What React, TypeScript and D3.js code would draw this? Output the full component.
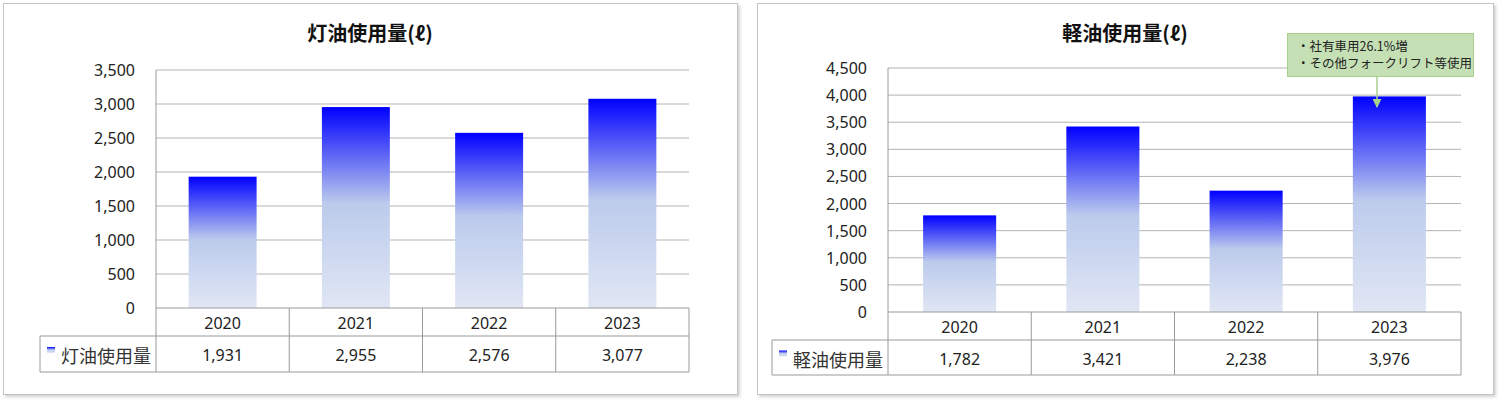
import React from "react";
import * as d3 from "d3";

const years = ["2020", "2021", "2022", "2023"];
const keroseneValues = [1931, 2955, 2576, 3077];
const dieselValues = [1782, 3421, 2238, 3976];
const keroseneTicks = [0, 500, 1000, 1500, 2000, 2500, 3000, 3500];
const dieselTicks = [0, 500, 1000, 1500, 2000, 2500, 3000, 3500, 4000, 4500];
const noteLines = ["・社有車用26.1%増", "・その他フォークリフト等使用"];

const JP = "'Noto Sans CJK JP', 'Noto Sans', sans-serif";
const NUM = "'Noto Sans', 'Noto Sans CJK JP', sans-serif";
const fmt = d3.format(",");

type ChartProps = {
  id: string;
  title: string;
  series: string;
  values: number[];
  ticks: number[];
  panelX: number;
  panelW: number;
  x0: number;
  x1: number;
  yTop: number;
  yBottom: number;
  row1: number;
  row2: number;
  legendX: number;
};

const Chart: React.FC<ChartProps> = (p) => {
  const x = d3.scaleBand<string>().domain(years).range([p.x0, p.x1]);
  const y = d3
    .scaleLinear()
    .domain([0, d3.max(p.ticks) || 0])
    .range([p.yBottom, p.yTop]);
  const barW = x.bandwidth() * 0.51;
  const gridColor = "#b3b3b3";
  const tableColor = "#9a9a9a";

  return (
    <g>
      <rect
        x={p.panelX + 0.5}
        y={3.5}
        width={p.panelW}
        height={391}
        fill="#fff"
        stroke="#c4c4c4"
        filter="url(#shadow)"
      />
      <text
        x={p.panelX + p.panelW / 2}
        y={32}
        textAnchor="middle"
        dominantBaseline="central"
        fontFamily={JP}
        fontWeight="bold"
        fontSize={20}
        fill="#111"
      >
        {p.title}
      </text>

      {/* gridlines + y labels */}
      {p.ticks.map((t) => (
        <g key={t}>
          {t > 0 && (
            <line x1={p.x0} x2={p.x1} y1={y(t)} y2={y(t)} stroke={gridColor} strokeWidth={1} />
          )}
          <text
            x={p.x0 - 21}
            y={y(t)}
            textAnchor="end"
            dominantBaseline="central"
            fontFamily={NUM}
            fontSize={16}
            fill="#222"
          >
            {fmt(t)}
          </text>
        </g>
      ))}

      {/* bars */}
      {p.values.map((v, i) => (
        <rect
          key={years[i]}
          x={(x(years[i]) || 0) + (x.bandwidth() - barW) / 2}
          y={y(v)}
          width={barW}
          height={y(0) - y(v)}
          fill={`url(#grad-${p.id})`}
        />
      ))}

      {/* plot left edge */}
      <line x1={p.x0} x2={p.x0} y1={p.yTop} y2={p.row2} stroke={tableColor} />

      {/* data table */}
      <line x1={p.x0} x2={p.x1} y1={p.yBottom} y2={p.yBottom} stroke={tableColor} />
      <line x1={p.legendX} x2={p.x1} y1={p.row1} y2={p.row1} stroke={tableColor} />
      <line x1={p.legendX} x2={p.x1} y1={p.row2} y2={p.row2} stroke={tableColor} />
      <line x1={p.legendX} x2={p.legendX} y1={p.row1} y2={p.row2} stroke={tableColor} />
      {years.map((yr) => (
        <line
          key={yr}
          x1={(x(yr) || 0) + x.bandwidth()}
          x2={(x(yr) || 0) + x.bandwidth()}
          y1={p.yBottom}
          y2={p.row2}
          stroke={tableColor}
        />
      ))}
      {years.map((yr, i) => (
        <g key={yr}>
          <text
            x={(x(yr) || 0) + x.bandwidth() / 2}
            y={(p.yBottom + p.row1) / 2 + 1}
            textAnchor="middle"
            dominantBaseline="central"
            fontFamily={NUM}
            fontSize={16}
            fill="#222"
          >
            {yr}
          </text>
          <text
            x={(x(yr) || 0) + x.bandwidth() / 2}
            y={(p.row1 + p.row2) / 2 + 1}
            textAnchor="middle"
            dominantBaseline="central"
            fontFamily={NUM}
            fontSize={16}
            fill="#222"
          >
            {fmt(p.values[i])}
          </text>
        </g>
      ))}
      <rect
        x={p.legendX + 7}
        y={(p.row1 + p.row2) / 2 - 7}
        width={8}
        height={6}
        fill={`url(#grad-${p.id})`}
      />
      <text
        x={p.legendX + 21}
        y={(p.row1 + p.row2) / 2 + 1}
        dominantBaseline="central"
        fontFamily={JP}
        fontSize={18}
        fill="#333"
      >
        {p.series}
      </text>

      <defs>
        <linearGradient id={`grad-${p.id}`} x1="0" x2="0" y1="0" y2="1">
          <stop offset="0%" stopColor="#0000ff" />
          <stop offset="48%" stopColor="#bccbec" />
          <stop offset="100%" stopColor="#e0e6f4" />
        </linearGradient>
      </defs>
    </g>
  );
};

const App: React.FC = () => {
  return (
    <svg
      width={1500}
      height={403}
      style={{ position: "absolute", left: 0, top: 0, background: "#fff" }}
    >
      <defs>
        <filter id="shadow" x="-5%" y="-5%" width="110%" height="110%">
          <feDropShadow dx={2} dy={2} stdDeviation={1.5} floodColor="#000" floodOpacity={0.18} />
        </filter>
        <marker
          id="arrow"
          viewBox="0 0 10 10"
          refX={9}
          refY={5}
          markerWidth={6}
          markerHeight={6}
          orient="auto"
        >
          <path d="M0,0 L10,5 L0,10 z" fill="#a9d18e" />
        </marker>
      </defs>
      <Chart
        id="k"
        title="灯油使用量(ℓ)"
        series="灯油使用量"
        values={keroseneValues}
        ticks={keroseneTicks}
        panelX={3}
        panelW={734}
        x0={156}
        x1={689}
        yTop={70}
        yBottom={308}
        row1={336}
        row2={372}
        legendX={40}
      />
      <Chart
        id="d"
        title="軽油使用量(ℓ)"
        series="軽油使用量"
        values={dieselValues}
        ticks={dieselTicks}
        panelX={757}
        panelW={736}
        x0={888}
        x1={1461}
        yTop={68}
        yBottom={312}
        row1={340}
        row2={375}
        legendX={772}
      />
      {/* annotation */}
      <line x1={1377} x2={1377} y1={77} y2={107} stroke="#a9d18e" strokeWidth={1.5} markerEnd="url(#arrow)" />
      <rect x={1287.5} y={33.5} width={186} height={43} fill="#c5e0b4" stroke="#a9d18e" />
      {noteLines.map((t, i) => (
        <text
          key={t}
          x={1297}
          y={45 + i * 17.5}
          dominantBaseline="central"
          fontFamily={JP}
          fontSize={12.5}
          fill="#222"
        >
          {t}
        </text>
      ))}
    </svg>
  );
};

export default App;
